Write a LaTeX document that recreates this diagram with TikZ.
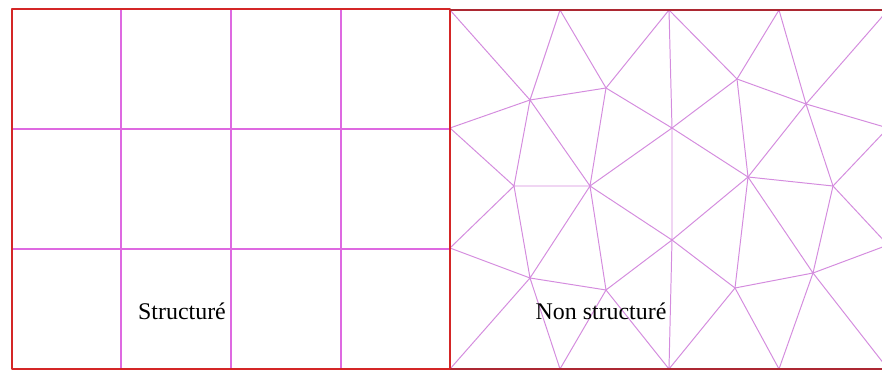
\documentclass[tikz,border=0pt]{standalone}
\usepackage{fontspec}
\setmainfont{Liberation Serif}
\definecolor{boxred}{RGB}{212,38,38}
\definecolor{darkred}{RGB}{172,40,50}
\definecolor{gridpink}{RGB}{222,105,225}
\definecolor{meshpink}{RGB}{212,140,222}
\begin{document}
\begin{tikzpicture}[x=0.025cm, y=-0.025cm, line join=round,
  grid/.style={gridpink, line width=1.1pt},
  mesh/.style={meshpink, line width=0.7pt},
  border/.style={line width=1.5pt},
  tag/.style={font=\fontsize{17}{20}\selectfont, inner sep=0pt, anchor=base}]
  \useasboundingbox (0,0) rectangle (882,373);
  \clip (0,0) rectangle (882,373);
  % structured grid
  \coordinate (s0) at (12,9);
  \coordinate (s1) at (450,369);
  \draw[grid] (121,9) -- (121,369);
  \draw[grid] (231,9) -- (231,369);
  \draw[grid] (341,9) -- (341,369);
  \draw[grid] (12,129) -- (450,129);
  \draw[grid] (12,249) -- (450,249);
  % unstructured mesh, boundary points
  \coordinate (t0) at (450,10);
  \coordinate (t1) at (560,10);
  \coordinate (t2) at (669,10);
  \coordinate (t3) at (779,10);
  \coordinate (t4) at (888,10);
  \coordinate (l1) at (450,128);
  \coordinate (l2) at (450,248);
  \coordinate (r1) at (888,128);
  \coordinate (r2) at (888,245);
  \coordinate (b0) at (450,369);
  \coordinate (b1) at (560,369);
  \coordinate (b2) at (669,369);
  \coordinate (b3) at (779,369);
  \coordinate (b4) at (888,369);
  % inner points
  \coordinate (a1) at (530,100);
  \coordinate (a2) at (606,88);
  \coordinate (a3) at (672,128);
  \coordinate (a4) at (737,79);
  \coordinate (a5) at (806,104);
  \coordinate (m1) at (514,186);
  \coordinate (m2) at (590,186);
  \coordinate (m3) at (672,240);
  \coordinate (m4) at (748,177);
  \coordinate (m5) at (833,186);
  \coordinate (c1) at (530,278);
  \coordinate (c2) at (606,290);
  \coordinate (c3) at (735,288);
  \coordinate (c4) at (813,273);
  % top row
  \draw[mesh] (t0) -- (a1) -- (t1) -- (a2) -- (t2) -- (a3);
  \draw[mesh] (t2) -- (a4) -- (t3) -- (a5) -- (t4);
  \draw[mesh] (l1) -- (a1) -- (a2) -- (a3) -- (a4) -- (a5) -- (r1);
  % middle row
  \draw[mesh] (l1) -- (m1) -- (a1) -- (m2) -- (a2);
  \draw[mesh] (a3) -- (m2) -- (m1);
  \draw[mesh] (a3) -- (m3) -- (m2);
  \draw[mesh] (a3) -- (m4) -- (a4);
  \draw[mesh] (m3) -- (m4) -- (a5) -- (m5) -- (m4);
  \draw[mesh] (r1) -- (m5) -- (r2);
  % bottom row
  \draw[mesh] (l2) -- (m1) -- (c1) -- (m2) -- (c2) -- (m3);
  \draw[mesh] (l2) -- (c1) -- (c2);
  \draw[mesh] (b0) -- (c1) -- (b1) -- (c2) -- (b2) -- (m3);
  \draw[mesh] (m3) -- (c3) -- (b2);
  \draw[mesh] (m4) -- (c3) -- (c4) -- (m4);
  \draw[mesh] (m5) -- (c4) -- (r2);
  \draw[mesh] (c3) -- (b3) -- (c4) -- (b4);
  % borders
  \draw[border, boxred] (s0) rectangle (s1);
  \draw[border, darkred] (t0) -- (t4);
  \draw[border, darkred] (b0) -- (b4);
  \draw[border, boxred] (t0) -- (b0);
  % labels
  \node[tag] (structure) at (182,320) {Structuré};
  \node[tag] (nonstructure) at (601,320) {Non structuré};
\end{tikzpicture}
\end{document}
